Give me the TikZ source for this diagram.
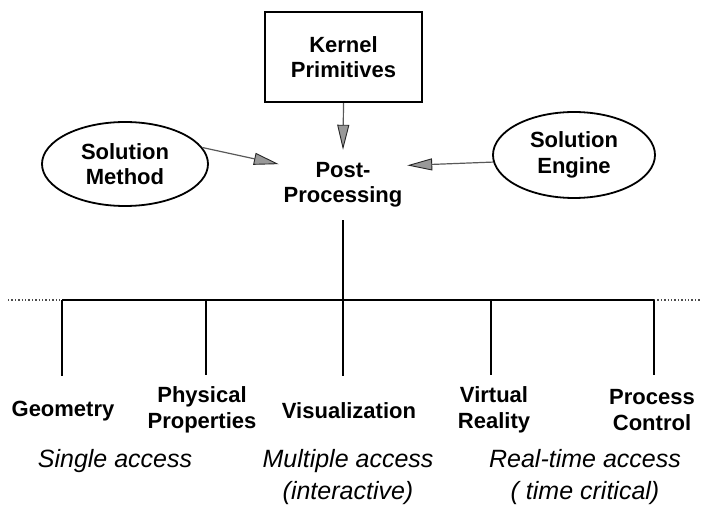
\documentclass[tikz,border=0pt]{standalone}
\usepackage{fontspec}
\setmainfont{Liberation Sans}
\usetikzlibrary{arrows.meta,shapes.geometric}
\begin{document}
\begin{tikzpicture}[x=1pt,y=-1pt,
  lbl/.style={font=\fontsize{22}{25.5}\selectfont\bfseries, align=center, inner sep=0pt},
  note/.style={font=\fontsize{25}{32}\selectfont\itshape, align=center, inner sep=0pt},
  oval/.style={draw, line width=1.8pt, ellipse, inner sep=0pt},
  boxnode/.style={draw, line width=2.2pt, inner sep=0pt},
  feed/.style={draw=black!65, line width=1.2pt,
    -{Triangle[length=25pt, width=12pt, fill=black!40, line width=0.9pt, color=black!85]}},
  wire/.style={line width=1.6pt},
  faint/.style={line width=1.4pt, dotted, black!70}]
\useasboundingbox (0,0) rectangle (701,529);

\node[boxnode, minimum width=157, minimum height=90] (kp) at (343.5,57) {};
\node[lbl] (kptext) at (343.5,57) {Kernel\\Primitives};

\node[oval, minimum width=166, minimum height=84] (sm) at (125,164) {};
\node[lbl] (smtext) at (125,164) {Solution\\Method};
\node[oval, minimum width=162, minimum height=86] (se) at (574,155) {};
\node[lbl] (setext) at (574,155) {Solution\\Engine};

\node[lbl, minimum width=128, minimum height=70] (pp) at (343,185) {Post-\\Processing};

\draw[feed] (kp.south) -- (pp.north);
\draw[feed] (sm.12) -- (pp.162);
\draw[feed] (se.185) -- (pp.17);

\coordinate (bl) at (8,300);
\coordinate (b1) at (62,300);
\coordinate (b2) at (206,300);
\coordinate (b3) at (343,300);
\coordinate (b4) at (491,300);
\coordinate (b5) at (654,300);
\coordinate (br) at (700,300);

\draw[faint] (bl) -- (b1);
\draw[faint] (b5) -- (br);
\draw[wire] (b1) -- (b5);
\draw[wire] (pp.south) -- (b3);

\node[lbl, minimum height=70] (geo) at (63,411) {Geometry};
\node[lbl, minimum height=70] (phy) at (202,410) {Physical\\Properties};
\node[lbl, minimum height=70] (vis) at (349,411) {Visualization};
\node[lbl, minimum height=70] (vr) at (494,410) {Virtual\\Reality};
\node[lbl, minimum height=70] (pc) at (652,410) {Process\\Control};

\draw[wire] (b1) -- (b1 |- geo.north);
\draw[wire] (b2) -- (b2 |- phy.north);
\draw[wire] (b3) -- (b3 |- vis.north);
\draw[wire] (b4) -- (b4 |- vr.north);
\draw[wire] (b5) -- (b5 |- pc.north);

\node[note] (sa) at (115,461) {Single access};
\node[note] (ma) at (348,477) {Multiple access\\(interactive)};
\node[note] (ra) at (585,477) {Real-time access\\( time critical)};
\end{tikzpicture}
\end{document}
